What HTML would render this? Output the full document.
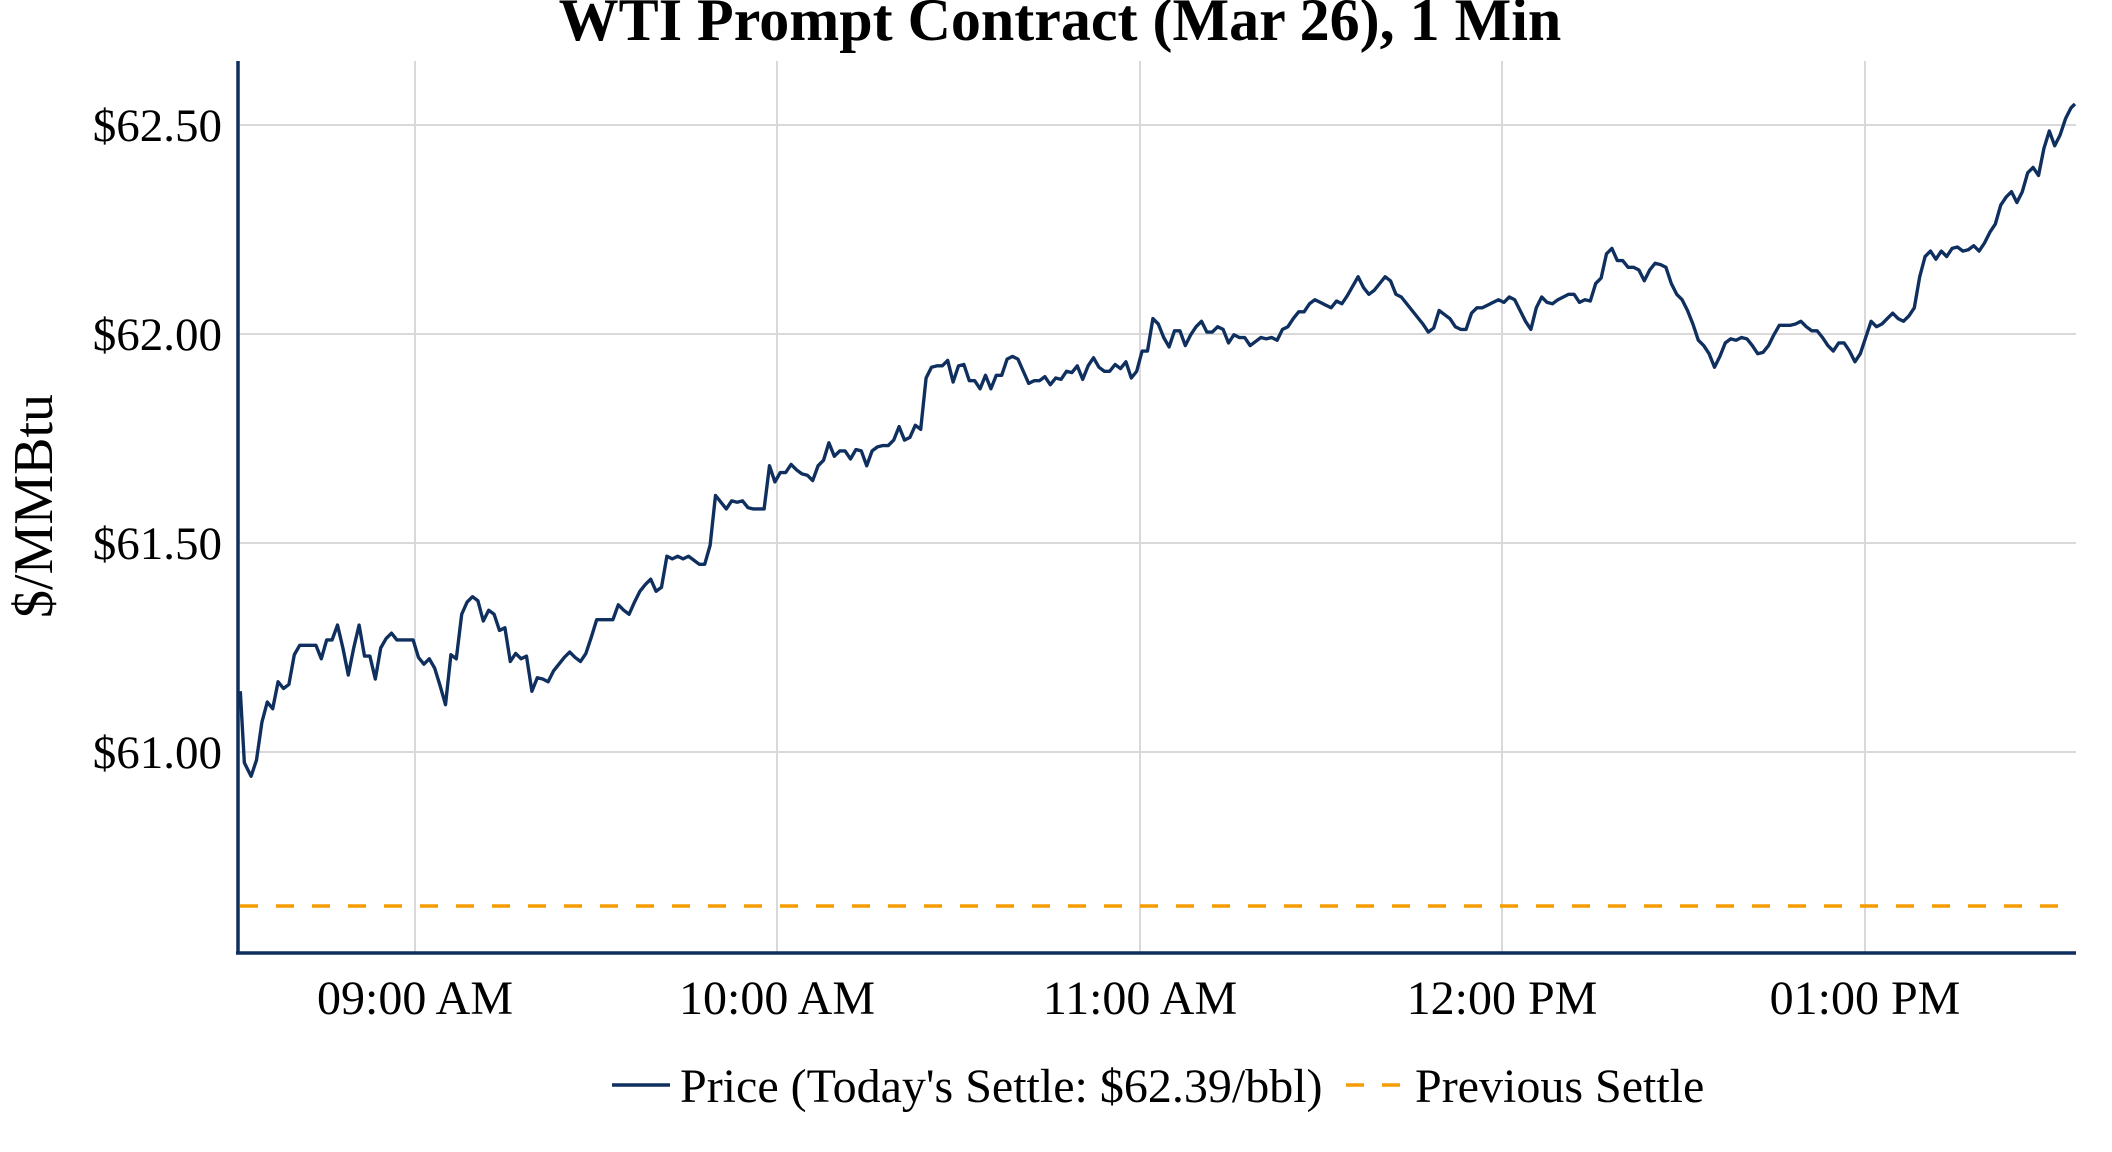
<!DOCTYPE html>
<html><head><meta charset="utf-8"><style>
html,body{margin:0;padding:0;background:#fff;}
svg{display:block;}
text{font-family:"Liberation Serif",serif;fill:#000;}
</style></head><body>
<svg width="2112" height="1152" viewBox="0 0 2112 1152" xmlns="http://www.w3.org/2000/svg">
<g stroke="#d9d9d9" stroke-width="2">
<line x1="415" y1="61" x2="415" y2="953"/>
<line x1="777" y1="61" x2="777" y2="953"/>
<line x1="1140" y1="61" x2="1140" y2="953"/>
<line x1="1502" y1="61" x2="1502" y2="953"/>
<line x1="1865" y1="61" x2="1865" y2="953"/>
<line x1="238" y1="125" x2="2076" y2="125"/>
<line x1="238" y1="334" x2="2076" y2="334"/>
<line x1="238" y1="543" x2="2076" y2="543"/>
<line x1="238" y1="752" x2="2076" y2="752"/>
</g>
<line x1="240" y1="906" x2="2064" y2="906" stroke="#f59c00" stroke-width="3.5" stroke-dasharray="18,18"/>
<g transform="scale(1.35)">
<polyline fill="none" stroke="#0f2f5f" stroke-width="2.5" stroke-linejoin="round" points="178,512 181,565 186,575 190,563 194,535 198,520 202,525 206,505 210,510 214,507 218,485 222,478 226,478 230,478 234,478 238,488 242,474 246,474 250,463 254,480 258,500 262,480 266,463 270,486 274,486 278,503 282,480 286,473 290,469 294,474 298,474 302,474 306,474 310,487 314,492 318,488 322,495 326,508 330,522 334,485 338,488 342,455 346,446 350,442 354,445 358,460 362,452 366,455 370,467 374,465 378,490 382,484 386,488 390,486 394,512 398,502 402,503 406,505 410,497 414,492 418,487 422,483 426,487 430,490 434,484 438,472 442,459 446,459 450,459 454,459 458,448 462,452 466,455 470,446 474,438 478,433 482,429 486,438 490,435 494,412 498,414 502,412 506,414 510,412 514,415 518,418 522,418 526,404 530,367 534,372 538,377 542,371 546,372 550,371 554,376 558,377 562,377 566,377 570,345 574,357 578,350 582,350 586,344 590,348 594,351 598,352 602,356 606,345 610,341 614,328 618,338 622,334 626,334 630,340 634,333 638,334 642,345 646,334 650,331 654,330 658,330 662,326 666,316 670,326 674,324 678,315 682,318 686,280 690,272 694,271 698,271 702,267 706,283 710,271 714,270 718,282 722,282 726,288 730,278 734,288 738,278 742,278 746,266 750,264 754,266 758,275 762,284 766,282 770,282 774,279 778,285 782,280 786,281 790,275 794,276 798,271 802,281 806,271 810,265 814,272 818,275 822,275 826,270 830,273 834,268 838,280 842,275 846,260 850,260 854,236 858,240 862,250 866,257 870,245 874,245 878,256 882,248 886,242 890,238 894,246 898,246 902,242 906,244 910,254 914,248 918,250 922,250 926,256 930,253 934,250 938,251 942,250 946,252 950,244 954,242 958,236 962,231 966,231 970,225 974,222 978,224 982,226 986,228 990,223 994,225 998,219 1002,212 1006,205 1010,213 1014,218 1018,215 1022,210 1026,205 1030,208 1034,218 1038,220 1042,225 1046,230 1050,235 1054,240 1058,246 1062,243 1066,230 1070,233 1074,236 1078,242 1082,244 1086,244 1090,232 1094,228 1098,228 1102,226 1106,224 1110,222 1114,224 1118,220 1122,222 1126,230 1130,238 1134,244 1138,228 1142,220 1146,224 1150,225 1154,222 1158,220 1162,218 1166,218 1170,224 1174,222 1178,223 1182,210 1186,206 1190,188 1194,184 1198,193 1202,193 1206,198 1210,198 1214,200 1218,208 1222,200 1226,195 1230,196 1234,198 1238,210 1242,218 1246,222 1250,230 1254,240 1258,252 1262,256 1266,262 1270,272 1274,264 1278,254 1282,251 1286,252 1290,250 1294,251 1298,256 1302,262 1306,261 1310,256 1314,248 1318,241 1322,241 1326,241 1330,240 1334,238 1338,242 1342,245 1346,245 1350,250 1354,256 1358,260 1362,254 1366,254 1370,260 1374,268 1378,262 1382,250 1386,238 1390,242 1394,240 1398,236 1402,232 1406,236 1410,238 1414,234 1418,228 1422,205 1426,190 1430,186 1434,192 1438,186 1442,190 1446,184 1450,183 1454,186 1458,185 1462,182 1466,186 1470,180 1474,172 1478,166 1482,152 1486,146 1490,142 1494,150 1498,142 1502,128 1506,124 1510,130 1514,110 1518,97 1522,108 1526,100 1530,88 1534,80 1537,77"/>
</g>
<line x1="238" y1="61" x2="238" y2="954" stroke="#0f2f5f" stroke-width="3.5"/>
<line x1="236" y1="953" x2="2076" y2="953" stroke="#0f2f5f" stroke-width="3.5"/>
<text x="1060" y="40" font-size="60" font-weight="bold" text-anchor="middle">WTI Prompt Contract (Mar 26), 1 Min</text>
<g font-size="47" text-anchor="end">
<text x="222" y="141">$62.50</text>
<text x="222" y="350">$62.00</text>
<text x="222" y="559">$61.50</text>
<text x="222" y="768">$61.00</text>
</g>
<text transform="translate(52,506) rotate(-90)" font-size="56" text-anchor="middle">$/MMBtu</text>
<g font-size="48" text-anchor="middle">
<text x="415" y="1014">09:00 AM</text>
<text x="777" y="1014">10:00 AM</text>
<text x="1140" y="1014">11:00 AM</text>
<text x="1502" y="1014">12:00 PM</text>
<text x="1865" y="1014">01:00 PM</text>
</g>
<line x1="612" y1="1085" x2="670" y2="1085" stroke="#0f2f5f" stroke-width="3.5"/>
<text x="680" y="1102" font-size="48">Price (Today's Settle: $62.39/bbl)</text>
<line x1="1346" y1="1085" x2="1402" y2="1085" stroke="#f59c00" stroke-width="3.5" stroke-dasharray="18,18"/>
<text x="1415" y="1102" font-size="48">Previous Settle</text>
</svg>
</body></html>
